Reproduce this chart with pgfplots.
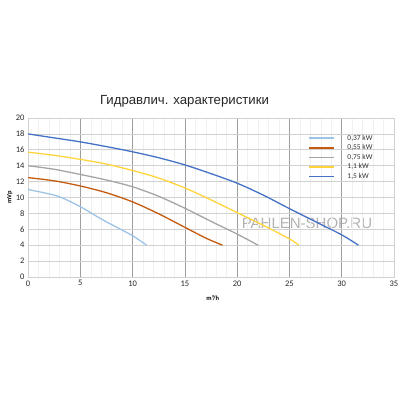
\documentclass[border=0pt]{standalone}
\usepackage{fontspec}
\setmainfont{Carlito}
\newfontfamily\arialfont{Liberation Sans}
\usepackage{pgfplots}
\pgfplotsset{compat=1.18}

\definecolor{cA}{HTML}{9DC3E6}
\definecolor{cB}{HTML}{C55A11}
\definecolor{cC}{HTML}{A5A5A5}
\definecolor{cD}{HTML}{FFD43B}
\definecolor{cE}{HTML}{4472C4}

\begin{document}
\begin{tikzpicture}
\useasboundingbox (0pt,0pt) rectangle (400pt,400pt);
\node[font=\arialfont\fontsize{13.2}{15}\selectfont, text=black!85] at (184.5pt,299pt) {Гидравлич. характеристики};
\node[font=\arialfont\fontsize{15}{17}\selectfont, text=black!30] at (307pt,177pt) {PAHLEN-SHOP.RU};
\begin{axis}[
    at={(28pt,123pt)}, anchor=south west,
    scale only axis,
    width=366pt, height=159pt,
    xmin=0, xmax=35, ymin=0, ymax=20,
    xtick={0,5,...,35}, ytick={0,2,...,20},
    minor x tick num=4,
    major tick length=0pt, minor tick length=0pt,
    xmajorgrids, ymajorgrids, xminorgrids,
    x grid style={color=black!38, line width=0.6pt},
    y grid style={color=black!18, line width=0.6pt},
    minor x grid style={color=black!6, line width=0.4pt},
    axis line style={black!18},
    tick label style={font=\fontsize{8.5}{10}\selectfont, text=black!85},
    /pgf/number format/assume math mode=true,
    xlabel={\bfseries m³/h}, ylabel={\bfseries mVp},
    label style={font=\fontsize{6.5}{7}\selectfont},
    xlabel style={at={(axis description cs:0.505,-0.13)}, anchor=center},
    ylabel style={at={(axis description cs:-0.05,0.5)}, anchor=center},
    legend cell align=left,
    legend style={at={(rel axis cs:0.757,0.91)}, anchor=north west, draw=none, fill=none,
        font=\fontsize{7.5}{8}\selectfont, text=black!80,
        nodes={inner sep=0.6pt, text height=5pt, text depth=1.2pt},
        row sep=2.2pt,
        /tikz/every odd column/.append style={column sep=12pt}},
    legend image code/.code={\draw[#1, line width=1.6pt] (0pt,0pt) -- (25pt,0pt);},
]
\addlegendimage{cA}
\addlegendimage{cB}
\addlegendimage{cC}
\addlegendimage{cD}
\addlegendimage{cE}
\addplot[cA, line width=1.3pt, smooth, forget plot] coordinates {(0,11) (1.5,10.6) (3,10.1) (5,8.85) (7,7.3) (9,5.9) (10,5.2) (11.35,4)};
\addplot[cB, line width=1.3pt, smooth, forget plot] coordinates {(0,12.5) (2.5,12.1) (5,11.45) (7.5,10.6) (10,9.45) (12.5,7.95) (15,6.25) (17,4.9) (18.6,4)};
\addplot[cC, line width=1.3pt, smooth, forget plot] coordinates {(0,14) (2.5,13.55) (5,12.9) (7.5,12.2) (10,11.35) (12.5,10.15) (15,8.65) (17.5,7) (20,5.4) (22,4)};
\addplot[cD, line width=1.3pt, smooth, forget plot] coordinates {(0,15.7) (2.5,15.3) (5,14.8) (7.5,14.2) (10,13.4) (12.5,12.45) (15,11.2) (17.5,9.7) (20,8.1) (22.5,6.5) (25,4.8) (25.9,4)};
\addplot[cE, line width=1.3pt, smooth, forget plot] coordinates {(0,18) (2.5,17.5) (5,17) (7.5,16.4) (10,15.75) (12.5,15) (15,14.1) (17.5,13) (20,11.8) (22.5,10.3) (25,8.6) (27.5,6.95) (30,5.3) (31.6,4)};
\legend{{0,37 kW}, {0,55 kW}, {0,75 kW}, {1,1 kW}, {1,5 kW}}
\end{axis}
\end{tikzpicture}
\end{document}
